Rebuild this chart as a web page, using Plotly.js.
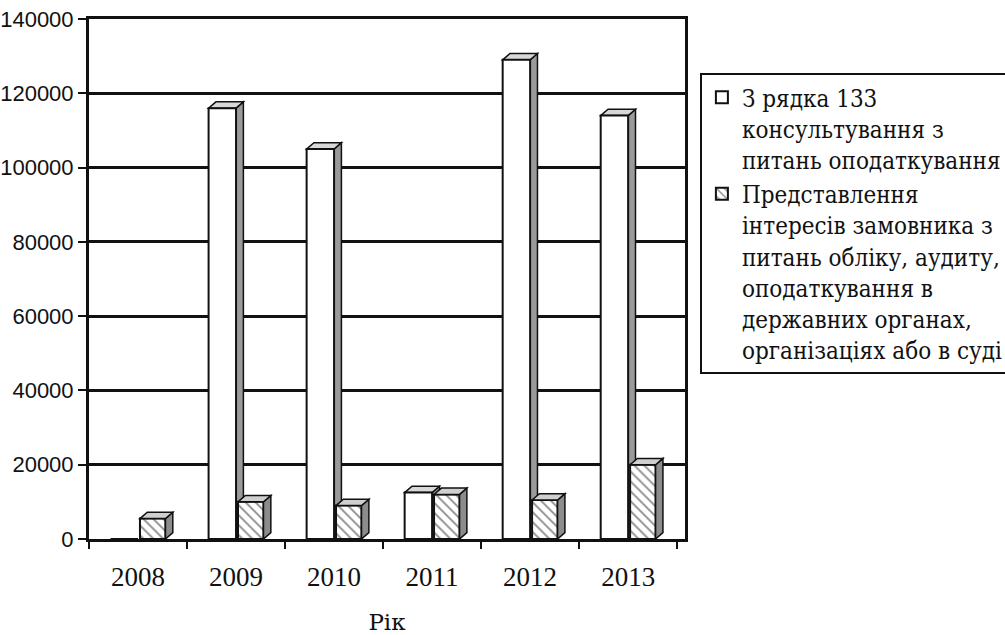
<!DOCTYPE html>
<html><head><meta charset="utf-8">
<script src="https://cdn.plot.ly/plotly-3.0.1.min.js"></script>
<style>html,body{margin:0;padding:0;background:#fff;}#chart{width:1005px;height:635px;}</style>
</head><body><div id="chart"></div>
<script>
const years = ['2008','2009','2010','2011','2012','2013'];
const consultValues = [0, 116000, 105000, 12500, 129000, 114000];
const representValues = [5500, 10000, 9000, 12000, 10500, 20000];
const seriesNames = [
  'З рядка 133<br>консультування з<br>питань оподаткування',
  'Представлення<br>інтересів замовника з<br>питань обліку, аудиту,<br>оподаткування в<br>державних органах,<br>організаціях або в суді'
];
const yTicks = [0, 20000, 40000, 60000, 80000, 100000, 120000, 140000];

const xPos = years.map((_, i) => i);
const W1 = 0.28, OFF1 = -0.28, W2 = 0.26, OFF2 = 0.02;
const DX = 0.075, DY = 1700;
const SERIF = "Liberation Serif";
const CYR_SERIF = "DejaVu Serif";
const CYR_SERIF_NARROW = "'DejaVu Serif Condensed', 'DejaVu Serif'";

const traces = [
  {type:'bar', name: seriesNames[0], x: xPos, y: consultValues, width: W1, offset: OFF1,
   marker:{color:'#ffffff', line:{color:'#111', width:2}}},
  {type:'bar', name: seriesNames[1], x: xPos, y: representValues, width: W2, offset: OFF2,
   marker:{color:'#ffffff', line:{color:'#111', width:2},
     pattern:{shape:'\\', fgcolor:'#8a8a8a', bgcolor:'#ffffff', size:7, solidity:0.25}}}
];

const shapes = [];
function addDepth(vals, off, w, layer, sideColor, topColor) {
  vals.forEach((v, i) => {
    if (v <= 0) return;
    const x0 = xPos[i] + off, x1 = xPos[i] + off + w;
    shapes.push({type:'path', xref:'x', yref:'y', layer: layer,
      path:`M${x1},0 L${x1},${v} L${x1+DX},${v+DY} L${x1+DX},${DY} Z`,
      fillcolor: sideColor, line:{color:'#111', width:1.5}});
    shapes.push({type:'path', xref:'x', yref:'y', layer: layer,
      path:`M${x0},${v} L${x1},${v} L${x1+DX},${v+DY} L${x0+DX},${v+DY} Z`,
      fillcolor: topColor, line:{color:'#111', width:1.5}});
  });
}
addDepth(consultValues, OFF1, W1, 'between', '#9a9a9a', '#d8d8d8');
addDepth(representValues, OFF2, W2, 'above', '#8c8c8c', '#cfcfcf');

const layout = {
  width: 1005, height: 635,
  paper_bgcolor:'#fff', plot_bgcolor:'#fff',
  font:{family: SERIF, color:'#111'},
  margin:{l:89, r:320, t:19, b:96, autoexpand:false},
  barmode:'overlay',
  showlegend:true,
  shapes: shapes,
  xaxis:{
    range:[-0.5, 5.58], tickvals: xPos, ticktext: years, ticks:'', ticklabelstandoff: 12,
    tickfont:{family: SERIF, size:27, color:'#111'},
    showline:true, linecolor:'#111', linewidth:3, mirror:true, showgrid:false, zeroline:false,
    automargin:true,
    minor:{tickvals:[-0.5,0.5,1.5,2.5,3.5,4.5,5.5], ticks:'outside', ticklen:7, tickwidth:2, tickcolor:'#111', showgrid:false},
    title:{text:'Рік', standoff: 36, font:{family: CYR_SERIF, size:23, color:'#111'}}
  },
  yaxis:{
    range:[0, 140000], tickvals: yTicks, ticktext: yTicks.map(String),
    ticks:'outside', ticklen:8, tickwidth:2, tickcolor:'#111',
    tickfont:{family:"Liberation Sans", size:22, color:'#111'},
    showline:true, linecolor:'#111', linewidth:3, mirror:true,
    showgrid:true, gridcolor:'#111', gridwidth:3, zeroline:false
  },
  legend:{
    x:1.025, xanchor:'left', y:0.896, yanchor:'top', valign:'top',
    bgcolor:'#fff', bordercolor:'#111', borderwidth:2,
    font:{family: CYR_SERIF_NARROW, size:24, color:'#111'},
    tracegroupgap:8, itemclick:false
  }
};

Plotly.newPlot('chart', traces, layout, {displayModeBar:false, staticPlot:true});
</script>
</body></html>
